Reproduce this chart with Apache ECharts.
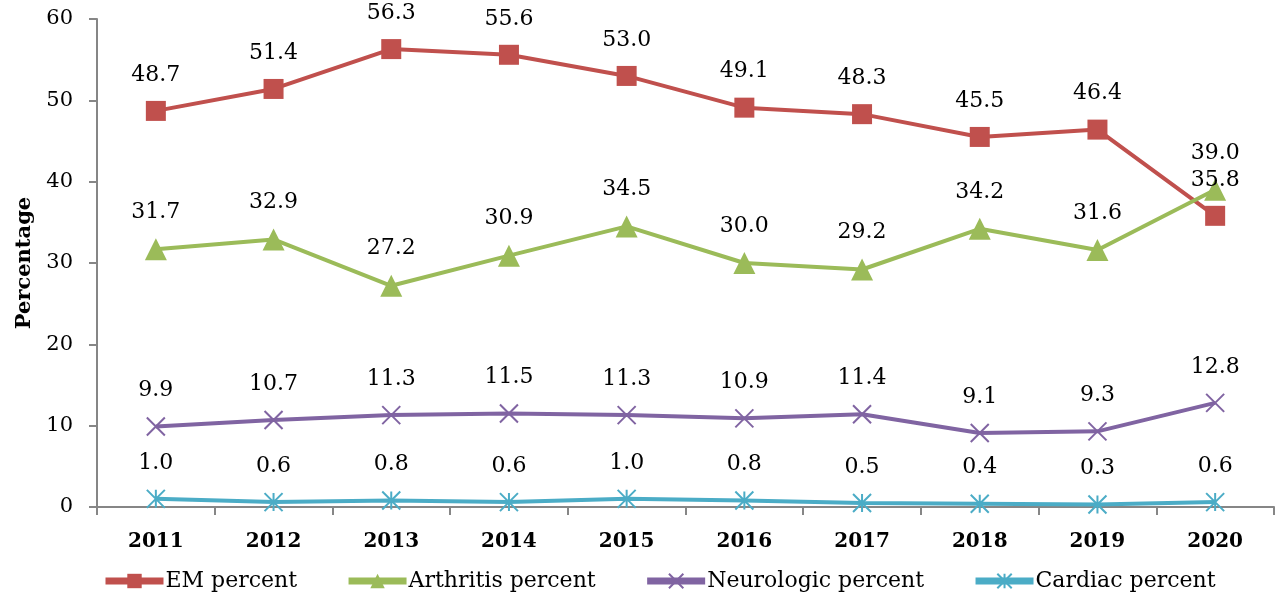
<!DOCTYPE html>
<html>
<head>
<meta charset="utf-8">
<script src="https://cdn.jsdelivr.net/npm/echarts@6/dist/echarts.min.js"></script>
<style>
  html, body { margin: 0; padding: 0; background: #fff; }
  #chart { width: 1283px; height: 598px; }
</style>
</head>
<body>
<div id="chart"></div>
<script>
const years = ['2011', '2012', '2013', '2014', '2015', '2016', '2017', '2018', '2019', '2020'];
const emPercent = [48.7, 51.4, 56.3, 55.6, 53.0, 49.1, 48.3, 45.5, 46.4, 35.8];
const arthritisPercent = [31.7, 32.9, 27.2, 30.9, 34.5, 30.0, 29.2, 34.2, 31.6, 39.0];
const neurologicPercent = [9.9, 10.7, 11.3, 11.5, 11.3, 10.9, 11.4, 9.1, 9.3, 12.8];
const cardiacPercent = [1.0, 0.6, 0.8, 0.6, 1.0, 0.8, 0.5, 0.4, 0.3, 0.6];

const serif = 'DejaVu Serif';
const crossPath = 'path://M0,0L10,10M10,0L0,10';
const starPath = 'path://M0,0L10,10M10,0L0,10M5,0L5,10';

function makeSeries(name, data, color, symbol, size, strokeSymbol) {
    return {
        name: name,
        type: 'line',
        data: data,
        symbol: symbol,
        symbolSize: size,
        showAllSymbol: true,
        lineStyle: { width: 4, color: color },
        itemStyle: strokeSymbol
            ? { color: color, borderColor: color, borderWidth: 2 }
            : { color: color },
        label: {
            show: true,
            position: 'top',
            distance: 15,
            formatter: p => p.value.toFixed(1),
            fontFamily: serif,
            fontSize: 22,
            color: '#000'
        },
        emphasis: { disabled: true }
    };
}

const chart = echarts.init(document.getElementById('chart'));
chart.setOption({
    animation: false,
    grid: { left: 97, right: 9, top: 19, bottom: 91, containLabel: false, outerBoundsMode: 'none' },
    legend: {
        bottom: 1,
        left: 97,
        itemWidth: 58,
        itemHeight: 18,
        itemGap: 48,
        lineStyle: { width: 7 },
        textStyle: { fontFamily: serif, fontSize: 22, color: '#000', padding: [0, 0, 0, -3] },
        data: ['EM percent', 'Arthritis percent', 'Neurologic percent', 'Cardiac percent']
    },
    xAxis: {
        type: 'category',
        data: years,
        boundaryGap: true,
        axisLine: { lineStyle: { color: '#868686', width: 2 } },
        axisTick: { show: true, length: 8, lineStyle: { color: '#868686', width: 2 } },
        axisLabel: { margin: 25, fontFamily: serif, fontSize: 20, fontWeight: 'bold', color: '#000' }
    },
    yAxis: {
        type: 'value',
        min: 0,
        max: 60,
        interval: 10,
        name: 'Percentage',
        nameLocation: 'middle',
        nameGap: 61,
        nameTextStyle: { fontFamily: serif, fontSize: 21, fontWeight: 'bold', color: '#000' },
        axisLine: { show: true, lineStyle: { color: '#868686', width: 2 } },
        axisTick: { show: true, length: 8, lineStyle: { color: '#868686', width: 2 } },
        splitLine: { show: false },
        axisLabel: { margin: 24, fontFamily: serif, fontSize: 21, color: '#000' }
    },
    series: [
        makeSeries('EM percent', emPercent, '#C0504D', 'rect', 20, false),
        makeSeries('Arthritis percent', arthritisPercent, '#9BBB59', 'triangle', 22, false),
        makeSeries('Neurologic percent', neurologicPercent, '#8064A2', crossPath, 18, true),
        makeSeries('Cardiac percent', cardiacPercent, '#4BACC6', starPath, 18, true)
    ]
});
</script>
</body>
</html>
